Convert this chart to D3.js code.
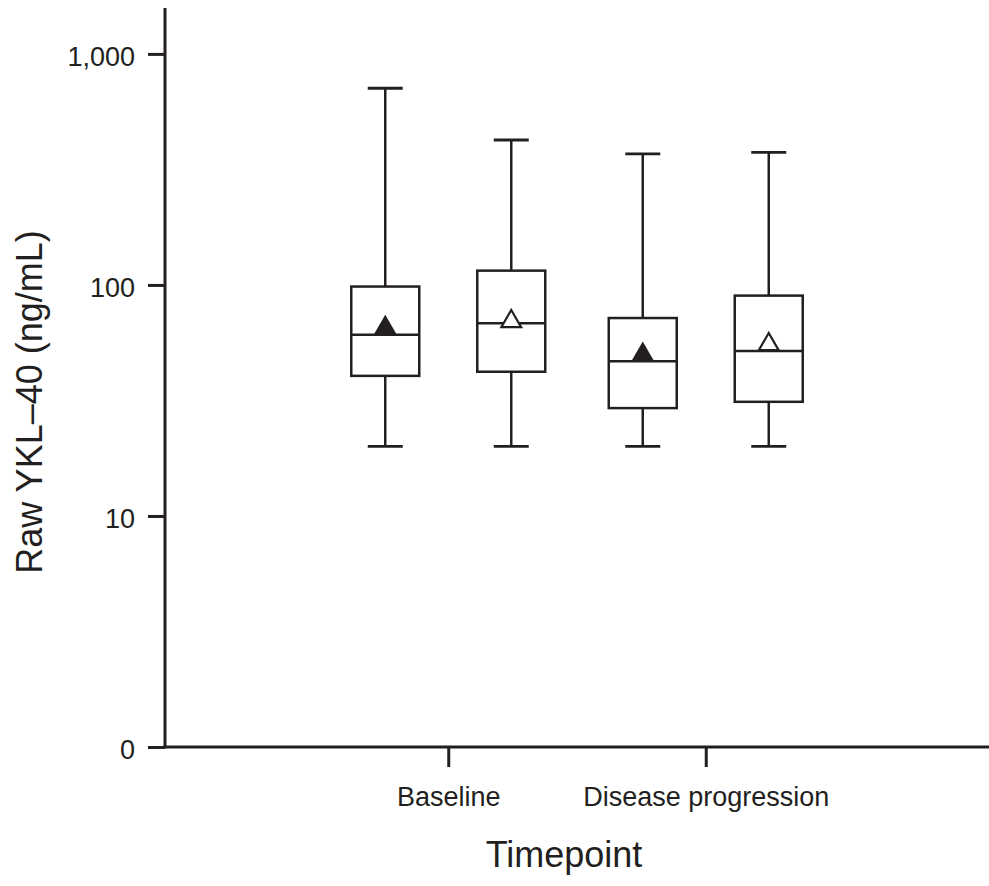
<!DOCTYPE html>
<html>
<head>
<meta charset="utf-8">
<script src="https://cdn.jsdelivr.net/npm/d3@7"></script>
<style>
  body { margin: 0; background: #fff; }
  text { font-family: "Liberation Sans", Arial, Helvetica, sans-serif; fill: #231f20; }
</style>
</head>
<body>
<div id="chart"></div>
<script>
// categories
const timepoints = ["Baseline", "Disease progression"];
const groups = ["closed", "open"]; // filled vs open triangle (mean marker)

// box values, order: Baseline closed, Baseline open, DP closed, DP open
const whiskerLow = [20, 20, 20, 20];
const q1 = [40.4, 42.1, 29.3, 31.2];
const median = [60.8, 68.3, 46.7, 51.8];
const q3 = [98.4, 115.3, 71.9, 89.9];
const whiskerHigh = [710, 424, 369, 375];
const mean = [65.3, 69.5, 50.1, 55.3];

// y ticks (log axis, bottom labelled 0)
const yTicks = [1, 10, 100, 1000];
const yTickLabels = ["0", "10", "100", "1,000"];

const width = 989;
const height = 886;
const ink = "#231f20";

const svg = d3.select("#chart")
    .append("svg")
    .attr("width", width)
    .attr("height", height);

const plotLeft = 165, plotRight = 989, plotTop = 8, plotBottom = 747;

const y = d3.scaleLog()
    .domain([1, 1580])
    .range([plotBottom, plotTop]);

const x = d3.scalePoint()
    .domain(timepoints)
    .range([plotLeft, plotRight])
    .padding(1.1);

const xSub = d3.scalePoint()
    .domain(groups)
    .range([-63, 63]);

const boxW = 68;
const capW = 35;

const boxes = [];
timepoints.forEach((t, i) => {
    groups.forEach((g, j) => {
        const k = i * groups.length + j;
        boxes.push({
            t, g,
            lo: whiskerLow[k], q1: q1[k], med: median[k],
            q3: q3[k], hi: whiskerHigh[k], mean: mean[k]
        });
    });
});

// axes
const yAxis = d3.axisLeft(y)
    .tickValues(yTicks)
    .tickFormat((d, i) => yTickLabels[i])
    .tickSize(17)
    .tickPadding(13);

const gy = svg.append("g")
    .attr("transform", `translate(${plotLeft},0)`)
    .call(yAxis);
gy.select(".domain").remove();
gy.selectAll(".tick line").attr("stroke", ink).attr("stroke-width", 3);
gy.selectAll(".tick text")
    .attr("font-size", 27)
    .attr("dy", "0.42em")
    .style("font-family", "'Liberation Sans', Arial, sans-serif")
    .attr("fill", ink);

const xAxis = d3.axisBottom(x)
    .tickSize(20)
    .tickPadding(20);

const gx = svg.append("g")
    .attr("transform", `translate(0,${plotBottom})`)
    .call(xAxis);
gx.select(".domain").remove();
gx.selectAll(".tick line").attr("stroke", ink).attr("stroke-width", 3);
gx.selectAll(".tick text")
    .attr("font-size", 27)
    .style("font-family", "'Liberation Sans', Arial, sans-serif")
    .attr("fill", ink);

// axis lines
svg.append("line")
    .attr("x1", plotLeft).attr("x2", plotLeft)
    .attr("y1", plotTop).attr("y2", plotBottom + 1.5)
    .attr("stroke", ink).attr("stroke-width", 3);
svg.append("line")
    .attr("x1", plotLeft - 1.5).attr("x2", plotRight)
    .attr("y1", plotBottom).attr("y2", plotBottom)
    .attr("stroke", ink).attr("stroke-width", 3);

// boxes
const bx = svg.append("g")
    .selectAll("g")
    .data(boxes)
    .enter().append("g")
    .attr("transform", d => `translate(${x(d.t) + xSub(d.g)},0)`);

bx.append("line")
    .attr("y1", d => y(d.hi)).attr("y2", d => y(d.q3))
    .attr("stroke", ink).attr("stroke-width", 2.5);
bx.append("line")
    .attr("y1", d => y(d.q1)).attr("y2", d => y(d.lo))
    .attr("stroke", ink).attr("stroke-width", 2.5);
bx.append("line")
    .attr("x1", -capW / 2).attr("x2", capW / 2)
    .attr("y1", d => y(d.hi)).attr("y2", d => y(d.hi))
    .attr("stroke", ink).attr("stroke-width", 2.8);
bx.append("line")
    .attr("x1", -capW / 2).attr("x2", capW / 2)
    .attr("y1", d => y(d.lo)).attr("y2", d => y(d.lo))
    .attr("stroke", ink).attr("stroke-width", 2.8);
bx.append("rect")
    .attr("x", -boxW / 2)
    .attr("width", boxW)
    .attr("y", d => y(d.q3))
    .attr("height", d => y(d.q1) - y(d.q3))
    .attr("fill", "#fff")
    .attr("stroke", ink).attr("stroke-width", 2.5);
bx.append("line")
    .attr("x1", -boxW / 2).attr("x2", boxW / 2)
    .attr("y1", d => y(d.med)).attr("y2", d => y(d.med))
    .attr("stroke", ink).attr("stroke-width", 2.5);

// mean markers
bx.append("path")
    .attr("transform", d => `translate(0,${y(d.mean)})`)
    .attr("d", d => d3.symbol(d3.symbolTriangle, d.g === "closed" ? 215 : 170)())
    .attr("fill", d => d.g === "closed" ? ink : "#fff")
    .attr("stroke", ink)
    .attr("stroke-width", d => d.g === "closed" ? 0 : 2.2);

// titles
svg.append("text")
    .attr("transform", `translate(42,402) rotate(-90)`)
    .attr("text-anchor", "middle")
    .attr("font-size", 36)
    .text("Raw YKL\u201340 (ng/mL)");

svg.append("text")
    .attr("x", 564)
    .attr("y", 867)
    .attr("text-anchor", "middle")
    .attr("font-size", 36)
    .text("Timepoint");
</script>
</body>
</html>
